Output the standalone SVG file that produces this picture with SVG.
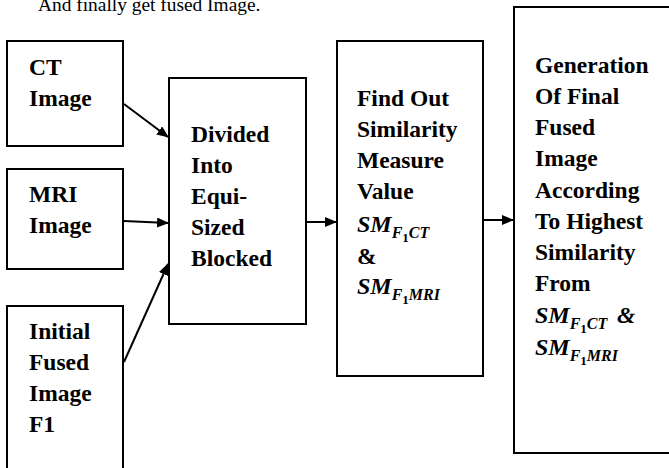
<svg xmlns="http://www.w3.org/2000/svg" width="669" height="468" viewBox="0 0 669 468">
<style>
.box{fill:#fff;stroke:#000;stroke-width:2}
.t{font-family:"Liberation Serif","Times New Roman",serif;font-weight:bold;font-size:23.5px;fill:#000}
.m{font-family:"Liberation Serif","Times New Roman",serif;font-weight:bold;font-style:italic;font-size:24px;fill:#000}
.s{font-size:16px}
.n{font-style:normal;font-size:13px}
.top{font-family:"Liberation Serif","Times New Roman",serif;font-size:19.4px;fill:#000}
.c{stroke:#000;stroke-width:2;fill:none;marker-end:url(#ah)}
</style>
<defs>
<marker id="ah" markerWidth="12" markerHeight="10" refX="11" refY="5" orient="auto" markerUnits="userSpaceOnUse">
<path d="M0,0 L12,5 L0,10 Z" fill="#000"/>
</marker>
</defs>
<text class="top" x="38" y="11">And finally get fused Image.</text>
<g id="ct">
<rect class="box" x="7" y="41" width="116" height="105"/>
<text class="t" x="29" y="75">CT</text>
<text class="t" x="29" y="106">Image</text>
</g>
<g id="mri">
<rect class="box" x="7" y="169" width="116" height="100"/>
<text class="t" x="29" y="202">MRI</text>
<text class="t" x="29" y="233">Image</text>
</g>
<g id="initial">
<rect class="box" x="7" y="306" width="116" height="175"/>
<text class="t" x="29" y="339">Initial</text>
<text class="t" x="29" y="370">Fused</text>
<text class="t" x="29" y="401">Image</text>
<text class="t" x="29" y="432">F1</text>
</g>
<g id="divided">
<rect class="box" x="169" y="78" width="137" height="246"/>
<text class="t" x="191" y="142">Divided</text>
<text class="t" x="191" y="173">Into</text>
<text class="t" x="191" y="204">Equi-</text>
<text class="t" x="191" y="235">Sized</text>
<text class="t" x="191" y="266">Blocked</text>
</g>
<g id="similarity">
<rect class="box" x="337" y="41" width="146" height="335"/>
<text class="t" x="357" y="106">Find Out</text>
<text class="t" x="357" y="137">Similarity</text>
<text class="t" x="357" y="168">Measure</text>
<text class="t" x="357" y="199">Value</text>
<text class="m" x="357" y="232">SM<tspan class="s" dy="6">F</tspan><tspan class="n" dy="4">1</tspan><tspan class="s" dy="-4">CT</tspan></text>
<text class="t" x="357" y="264">&amp;</text>
<text class="m" x="357" y="294">SM<tspan class="s" dy="6">F</tspan><tspan class="n" dy="4">1</tspan><tspan class="s" dy="-4">MRI</tspan></text>
</g>
<g id="final">
<rect class="box" x="514" y="7" width="170" height="446"/>
<text class="t" x="535" y="73">Generation</text>
<text class="t" x="535" y="104">Of Final</text>
<text class="t" x="535" y="135">Fused</text>
<text class="t" x="535" y="166">Image</text>
<text class="t" x="535" y="198">According</text>
<text class="t" x="535" y="229">To Highest</text>
<text class="t" x="535" y="260">Similarity</text>
<text class="t" x="535" y="291">From</text>
<text class="m" x="535" y="323">SM<tspan class="s" dy="6">F</tspan><tspan class="n" dy="4">1</tspan><tspan class="s" dy="-4">CT</tspan><tspan class="t" dy="-6" x="617">&amp;</tspan></text>
<text class="m" x="535" y="355">SM<tspan class="s" dy="6">F</tspan><tspan class="n" dy="4">1</tspan><tspan class="s" dy="-4">MRI</tspan></text>
</g>
<g id="connectors">
<line class="c" x1="124" y1="104" x2="168" y2="137"/>
<line class="c" x1="124" y1="221" x2="168" y2="223"/>
<line class="c" x1="124" y1="362" x2="168" y2="264"/>
<line class="c" x1="306" y1="222" x2="336" y2="222"/>
<line class="c" x1="483" y1="220" x2="513" y2="220"/>
</g>
</svg>
